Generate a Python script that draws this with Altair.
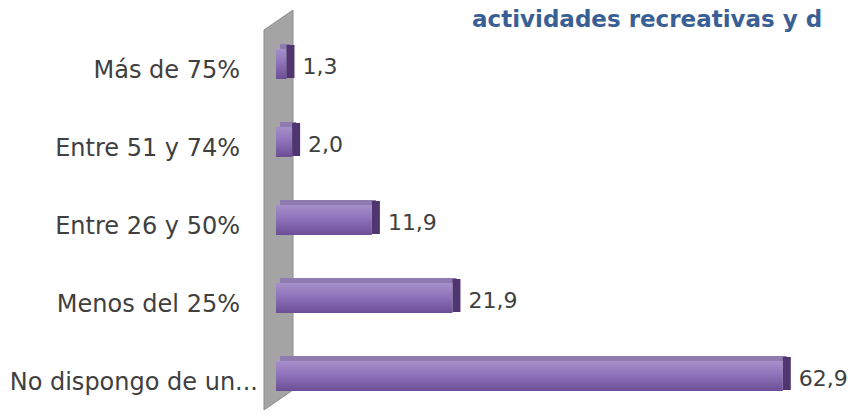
import altair as alt
import pandas as pd

categories = ["Más de 75%", "Entre 51 y 74%", "Entre 26 y  50%", "Menos del 25%", "No dispongo de un..."]
values = [1.3, 2.0, 11.9, 21.9, 62.9]
title_text = "actividades recreativas y d"

df = pd.DataFrame({"cat": categories, "val": values})

FONT = "DejaVu Sans"
TXT = "#404040"

y_enc = alt.Y("cat:N", sort=categories,
              scale=alt.Scale(paddingInner=0.615, paddingOuter=0), axis=None)
x_enc = alt.X("val:Q", scale=alt.Scale(domain=[0, 70]), axis=None)

wall_path = "M-0.0725,-0.9 L0.0725,-1 L0.0725,0.9 L-0.0725,1 Z"
wall = alt.Chart(alt.Data(values=[{"a": 1}])).mark_point(
    shape=wall_path, size=160000, filled=True, fill="#a4a4a4",
    stroke="#8e8e8e", strokeWidth=1, opacity=1
).encode(x=alt.value(2.5), y=alt.value(161))

grad = alt.Gradient(
    gradient="linear", x1=0, x2=0, y1=0, y2=1,
    stops=[alt.GradientStop(color="#a690ca", offset=0),
           alt.GradientStop(color="#8f73ba", offset=0.45),
           alt.GradientStop(color="#6b4e94", offset=1)])

base = alt.Chart(df)

top_face = base.mark_bar(height=5, yOffset=-17.5, xOffset=4, fill="#8f7bb0", opacity=1).encode(
    y=y_enc, x=x_enc)
front = base.mark_bar(fill=grad, opacity=1).encode(y=y_enc, x=x_enc)
side = base.mark_tick(orient="vertical", thickness=8, size=33, xOffset=4, yOffset=-2.5,
                      color="#4f3670", opacity=1).encode(y=y_enc, x=x_enc)
labels = base.mark_text(align="left", baseline="middle", dx=16, dy=3, font=FONT,
                        fontSize=22, color=TXT).encode(
    y=y_enc, x=x_enc,
    text=alt.Text("lab:N")).transform_calculate(
    lab="replace(format(datum.val, '.1f'), '.', ',')")

last_cat = categories[-1]
cat_labels = base.mark_text(align="right", baseline="middle", dy=7, font=FONT,
                            fontSize=24, color=TXT).encode(
    y=y_enc, x=alt.value(-36), text="cat:N").transform_filter(
    alt.datum.cat != last_cat)
cat_last = base.mark_text(align="right", baseline="middle", dy=7, font=FONT,
                          fontSize=24, color=TXT).encode(
    y=y_enc, x=alt.value(-18), text="cat:N").transform_filter(
    alt.datum.cat == last_cat)

title = alt.Chart(alt.Data(values=[{"t": title_text}])).mark_text(
    align="left", baseline="top", font=FONT, fontSize=23, fontWeight="bold",
    color="#3a5f94").encode(x=alt.value(196), y=alt.value(-40), text="t:N")

chart = alt.layer(wall, top_face, front, side, labels, cat_labels, cat_last, title).properties(
    width=564, height=342,
    background="white",
    autosize=alt.AutoSizeParams(type="none"),
    padding={"left": 268, "top": 41, "right": 8, "bottom": 19},
).configure_view(stroke=None)

chart.save("out.html", embed_options={"renderer": "svg", "actions": False})
